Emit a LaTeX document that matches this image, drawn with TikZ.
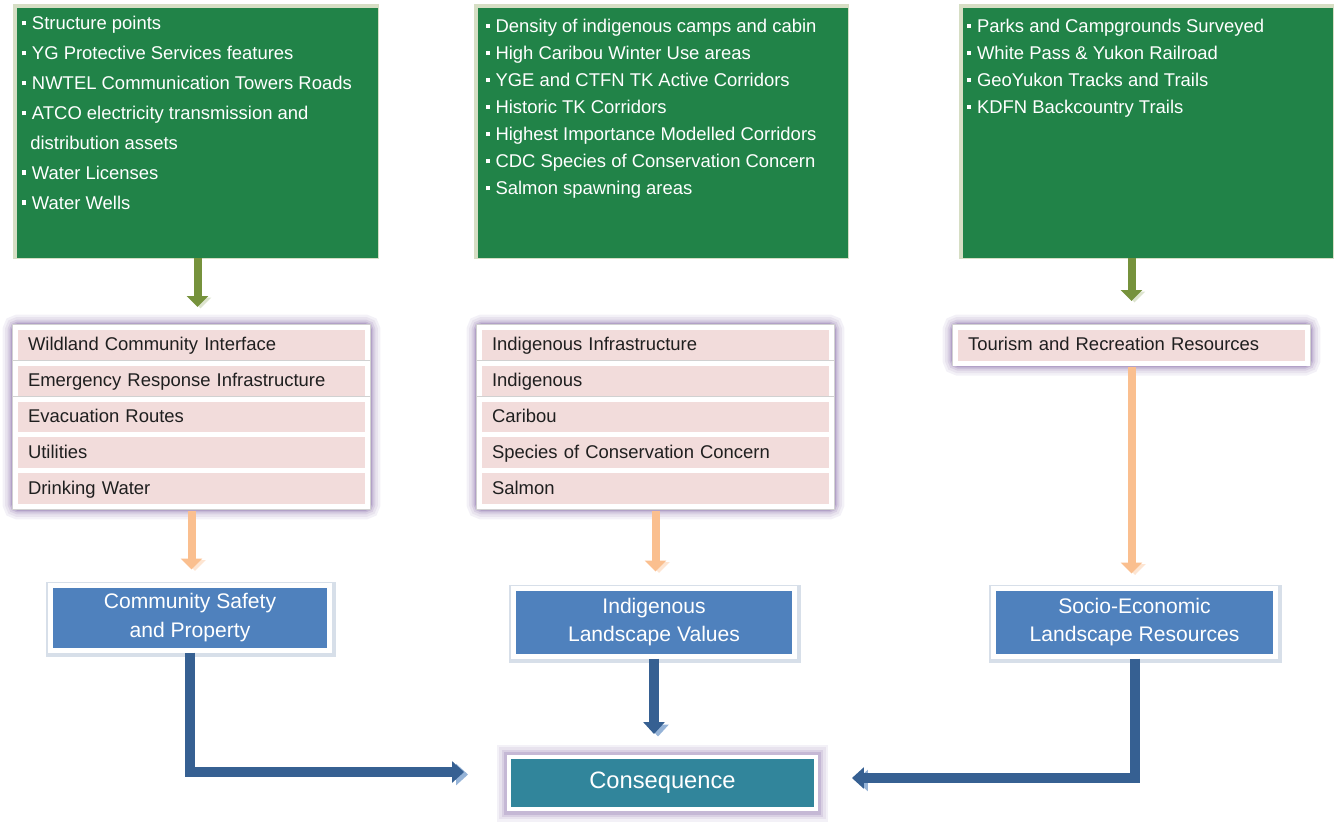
\documentclass[tikz,border=0pt]{standalone}
\usepackage{fontspec}
\setmainfont{Liberation Sans}
\usetikzlibrary{positioning,fit,backgrounds,arrows.meta}

\definecolor{boxgreen}{RGB}{33,131,72}
\definecolor{olivearrow}{RGB}{118,146,60}
\definecolor{orangearrow}{RGB}{250,191,143}
\definecolor{rowpink}{RGB}{242,220,219}
\definecolor{glowpurple}{RGB}{178,161,199}
\definecolor{boxblue}{RGB}{79,129,189}
\definecolor{linkblue}{RGB}{54,96,146}
\definecolor{shadeblue}{RGB}{149,179,215}
\definecolor{consteal}{RGB}{49,133,155}

\newcommand{\itembul}{\rule[0.24em]{0.24em}{0.24em}\hspace{0.3em}}

\begin{document}
\begin{tikzpicture}[x=0.02cm,y=-0.02cm,
        greenbox/.style={fill=boxgreen,minimum height=5cm,inner sep=0pt,
            preaction={draw=olivearrow!30,line width=0.1cm,
            transform canvas={xshift=-0.03cm,yshift=0.03cm}}},
        greentext/.style={anchor=north west,inner sep=0pt,align=left,text=white},
        row/.style={fill=rowpink,draw=white,line width=0.1cm,
            preaction={draw=black!18,line width=0.13cm},
            minimum height=0.72cm,text width=6.54cm,inner xsep=0.26cm,
            inner ysep=0pt,outer sep=0pt,align=left,text height=1.55ex,
            text depth=0.3ex,text=black!88,font=\fontsize{10.5}{12}\selectfont},
        glow/.style={preaction={draw=glowpurple!15,line width=0.5cm},
            preaction={draw=glowpurple!30,line width=0.4cm},
            preaction={draw=glowpurple!50,line width=0.3cm},
            preaction={draw=glowpurple!75,line width=0.22cm}},
        listframe/.style={glow,draw=glowpurple,line width=0.16cm,inner sep=0pt,
            rounded corners=2pt},
        bluebox/.style={fill=boxblue,draw=white,line width=0.1cm,text=white,
            align=center,font=\fontsize{12}{16.3}\selectfont,
            preaction={draw=linkblue!20,line width=0.2cm,
            transform canvas={xshift=0.02cm,yshift=-0.03cm}}},
        consbox/.style={glow,fill=consteal,draw=white,line width=0.08cm,text=white,
            minimum width=6.14cm,minimum height=1.04cm,
            font=\fontsize{13.5}{16}\selectfont},
        greenarrow/.style={draw=olivearrow,line width=0.16cm,
            -{Triangle[width=0.42cm,length=0.22cm]},
            preaction={draw=olivearrow!25,transform canvas={xshift=0.06cm,yshift=-0.03cm}}},
        orangearrow/.style={draw=orangearrow,line width=0.16cm,
            -{Triangle[width=0.42cm,length=0.22cm]},
            preaction={draw=orangearrow!40,transform canvas={xshift=0.07cm,yshift=-0.03cm}}},
        bluearrow/.style={draw=linkblue,line width=0.2cm,
            -{Triangle[width=0.42cm,length=0.24cm]},
            preaction={draw=shadeblue,transform canvas={xshift=0.08cm,yshift=-0.05cm}}}]
\useasboundingbox (0,0) rectangle (1341,823);

% data sources
\node[greenbox,minimum width=7.22cm] (g1) at (197.5,133) {};
\node[greenbox,minimum width=7.4cm] (g2) at (663,133) {};
\node[greenbox,minimum width=7.4cm] (g3) at (1148,133) {};

\node[greentext,font=\fontsize{10.5}{17}\selectfont] (t1)
    at ([xshift=0.1cm,yshift=-0.17cm]g1.north west)
    {\itembul Structure points\\
     \itembul YG Protective Services features\\
     \itembul NWTEL Communication Towers Roads\\
     \itembul ATCO electricity transmission and\\
     \hspace*{0.45em}distribution assets\\
     \itembul Water Licenses\\
     \itembul Water Wells};
\node[greentext,font=\fontsize{10.5}{15.4}\selectfont] (t2)
    at ([xshift=0.15cm,yshift=-0.22cm]g2.north west)
    {\itembul Density of indigenous camps and cabin\\
     \itembul High Caribou Winter Use areas\\
     \itembul YGE and CTFN TK Active Corridors\\
     \itembul Historic TK Corridors\\
     \itembul Highest Importance Modelled Corridors\\
     \itembul CDC Species of Conservation Concern\\
     \itembul Salmon spawning areas};
\node[greentext,font=\fontsize{10.5}{15.4}\selectfont] (t3)
    at ([xshift=0.08cm,yshift=-0.22cm]g3.north west)
    {\itembul Parks and Campgrounds Surveyed\\
     \itembul White Pass \& Yukon Railroad\\
     \itembul GeoYukon Tracks and Trails\\
     \itembul KDFN Backcountry Trails};

% value lists
\node[row] (a1) at (191.5,345) {Wildland Community Interface};
\node[row,below=0pt of a1] (a2) {Emergency Response Infrastructure};
\node[row,below=0pt of a2] (a3) {Evacuation Routes};
\node[row,below=0pt of a3] (a4) {Utilities};
\node[row,below=0pt of a4] (a5) {Drinking Water};

\node[row] (b1r) at (655.5,345) {Indigenous Infrastructure};
\node[row,below=0pt of b1r] (b2r) {Indigenous};
\node[row,below=0pt of b2r] (b3r) {Caribou};
\node[row,below=0pt of b3r] (b4r) {Species of Conservation Concern};
\node[row,below=0pt of b4r] (b5r) {Salmon};

\node[row] (c1) at (1131.5,345) {Tourism and Recreation Resources};

\begin{scope}[on background layer]
\node[listframe,fit=(a1)(a5)] (l1) {};
\node[listframe,fit=(b1r)(b5r)] (l2) {};
\node[listframe,fit=(c1)] (l3) {};
\end{scope}

% categories
\node[bluebox,minimum width=5.6cm,minimum height=1.3cm] (b1) at (190,617.5)
    {Community Safety\\and Property};
\node[bluebox,minimum width=5.64cm,minimum height=1.36cm] (b2) at (654,622)
    {Indigenous\\Landscape Values};
\node[bluebox,minimum width=5.66cm,minimum height=1.36cm] (b3) at (1134.5,622)
    {Socio-Economic\\Landscape Resources};

\node[consbox] (cons) at (662.5,783) {Consequence};

% arrows
\draw[greenarrow,shorten >=0.32cm] (g1.south) -- (g1.south |- l1.north);
\draw[greenarrow,shorten >=0.44cm] (g3.south -| l3.north) -- (l3.north);

\draw[orangearrow,shorten >=0.26cm] (l1.south) -- (l1.south |- b1.north);
\draw[orangearrow,shorten >=0.28cm] (l2.south) -- (l2.south |- b2.north);
\draw[orangearrow,shorten >=0.24cm] (l3.south) -- (l3.south |- b3.north);

\draw[bluearrow,shorten >=0.86cm] (b1.south) |- ([yshift=0.22cm]cons.west);
\draw[bluearrow,shorten >=0.42cm] (b2.south) -- (b2.south |- cons.north);
\draw[bluearrow,shorten >=0.68cm] (b3.south) |- ([yshift=0.1cm]cons.east);
\end{tikzpicture}
\end{document}
